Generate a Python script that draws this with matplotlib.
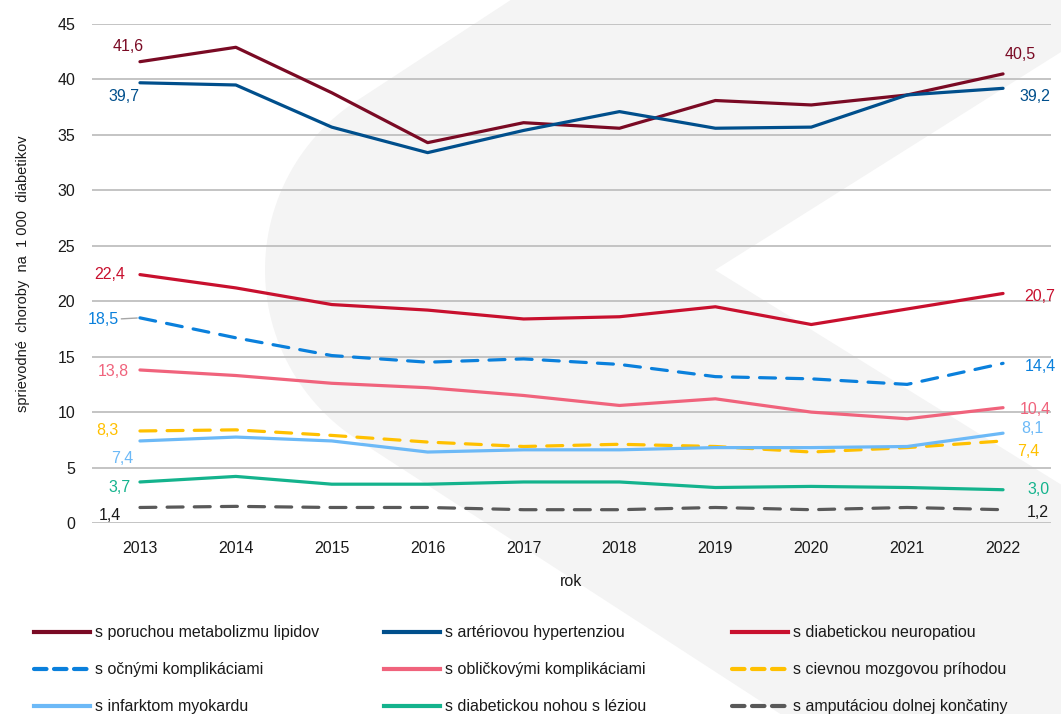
import numpy as np
import matplotlib
matplotlib.use('Agg')
import matplotlib.pyplot as plt
from matplotlib.patches import Polygon
from matplotlib.lines import Line2D

plt.rcParams['font.family'] = ['Liberation Sans', 'DejaVu Sans']

years = ['2013', '2014', '2015', '2016', '2017', '2018', '2019', '2020', '2021', '2022']

names = ['s poruchou metabolizmu lipidov', 's artériovou hypertenziou', 's diabetickou neuropatiou',
         's očnými komplikáciami', 's obličkovými komplikáciami', 's cievnou mozgovou príhodou',
         's infarktom myokardu', 's diabetickou nohou s léziou', 's amputáciou dolnej končatiny']

lipidy = [41.6, 42.9, 38.8, 34.3, 36.1, 35.6, 38.1, 37.7, 38.6, 40.5]
hypertenzia = [39.7, 39.5, 35.7, 33.4, 35.4, 37.1, 35.6, 35.7, 38.6, 39.2]
neuropatia = [22.4, 21.2, 19.7, 19.2, 18.4, 18.6, 19.5, 17.9, 19.3, 20.7]
ocne = [18.5, 16.7, 15.1, 14.5, 14.8, 14.3, 13.2, 13.0, 12.5, 14.4]
oblickove = [13.8, 13.3, 12.6, 12.2, 11.5, 10.6, 11.2, 10.0, 9.4, 10.4]
cmp = [8.3, 8.4, 7.9, 7.3, 6.9, 7.1, 6.9, 6.4, 6.8, 7.4]
infarkt = [7.4, 7.75, 7.4, 6.4, 6.6, 6.6, 6.8, 6.8, 6.9, 8.1]
noha = [3.7, 4.2, 3.5, 3.5, 3.7, 3.7, 3.2, 3.3, 3.2, 3.0]
amputacia = [1.4, 1.5, 1.4, 1.4, 1.2, 1.2, 1.4, 1.2, 1.4, 1.2]

series = [lipidy, hypertenzia, neuropatia, ocne, oblickove, cmp, infarkt, noha, amputacia]
colors = ['#7a0a24', '#004f8c', '#c8102e', '#0a80dc', '#f0637c', '#ffc000', '#6cb9f7', '#14b38d', '#595959']
label_colors = colors[:8] + ['#1a1a1a']
dashed = [False, False, False, True, False, True, False, False, True]

# label offsets in pixels (first point, last point)
off_first = [(-12, 15), (-16, -14), (-30, 0), (-37, -2), (-27, -2), (-33, 0), (-18, -18), (-20, -6), (-30, -8)]
off_last = [(17, 19), (32, -8), (37, -3), (37, -3), (32, -2), (25, -11), (29, 5), (35, 0), (35, -3)]

W, H = 1061, 714
fig = plt.figure(figsize=(W / 100, H / 100), dpi=100)

# background decoration (rounded chevron)
bg = fig.add_axes([0, 0, 1, 1], zorder=0)
bg.set_xlim(0, W)
bg.set_ylim(H, 0)
bg.axis('off')
s = 0.645
xa, yc = 92, 270
cx, r = 467, 202
a = np.arctan(s)
ang = np.linspace(np.pi + (np.pi / 2 - a), np.pi - (np.pi / 2 - a), 60)
arc = np.column_stack([cx + r * np.cos(ang), yc + r * np.sin(ang)])
top_x = xa + (yc + 5) / s
bot_x = xa + (H - yc + 5) / s
notch_x = 715
pts = [(top_x, -5), *arc, (bot_x, H + 5), (W + 5, H + 5),
       (W + 5, yc + (W + 5 - notch_x) * 0.62), (notch_x, yc),
       (W + 5, yc - (W + 5 - notch_x) * 0.63), (W + 5, -5)]
bg.add_patch(Polygon(pts, closed=True, facecolor='#f4f4f4', edgecolor='none'))

ax = fig.add_axes([92 / W, 1 - 523 / H, (1051 - 92) / W, (523 - 24) / H], zorder=1)
ax.patch.set_alpha(0)
x = np.arange(len(years))

handles = []
for i, vals in enumerate(series):
    if dashed[i]:
        ls = (0, (5, 3.5))
    else:
        ls = '-'
    ax.plot(x, vals, color=colors[i], lw=2.3, ls=ls, dash_capstyle='round',
            solid_capstyle='round', zorder=3, clip_on=False)
    handles.append(Line2D([], [], color=colors[i], lw=3, ls=(0, (3, 1.8)) if dashed[i] else '-',
                          dash_capstyle='round'))
    kw = dict(textcoords='offset pixels', ha='center', va='center', fontsize=11.5, color=label_colors[i])
    t0 = f'{vals[0]:.1f}'.replace('.', ',')
    t1 = f'{vals[-1]:.1f}'.replace('.', ',')
    if i == 3:
        ax.annotate(t0, (x[0], vals[0]), xytext=off_first[i],
                    arrowprops=dict(arrowstyle='-', color='#a6a6a6', lw=1, shrinkA=14, shrinkB=2), **kw)
    else:
        ax.annotate(t0, (x[0], vals[0]), xytext=off_first[i], **kw)
    ax.annotate(t1, (x[-1], vals[-1]), xytext=off_last[i], **kw)

ax.set_xlim(-0.5, 9.5)
ax.set_ylim(0, 45)
ax.set_xticks(x)
ax.set_xticklabels(years)
ax.set_yticks(range(0, 50, 5))
ax.yaxis.grid(True, color='#bfbfbf', lw=1.3)
ax.set_axisbelow(True)
for sp in ax.spines.values():
    sp.set_visible(False)
ax.tick_params(axis='both', length=0, labelsize=11.5, colors='#1a1a1a')
ax.tick_params(axis='y', pad=12)
ax.tick_params(axis='x', pad=13)
ax.set_xlabel('rok', fontsize=11.5, labelpad=13, color='#1a1a1a')
ax.set_ylabel('sprievodné  choroby  na  1 000  diabetikov', fontsize=10.5, labelpad=20, color='#1a1a1a')

# legend in three columns, filled row by row
col_x = [28 / W, 378 / W, 726 / W]
for c in range(3):
    idx = [c, c + 3, c + 6]
    leg = fig.legend([handles[k] for k in idx], [names[k] for k in idx],
                     loc='upper left', bbox_to_anchor=(col_x[c], 1 - 619 / H),
                     frameon=False, fontsize=11.5, handlelength=3.5, handletextpad=0.3,
                     labelspacing=1.38, borderaxespad=0)
    for t in leg.get_texts():
        t.set_color('#1a1a1a')

fig.savefig('out.png', dpi=100)
